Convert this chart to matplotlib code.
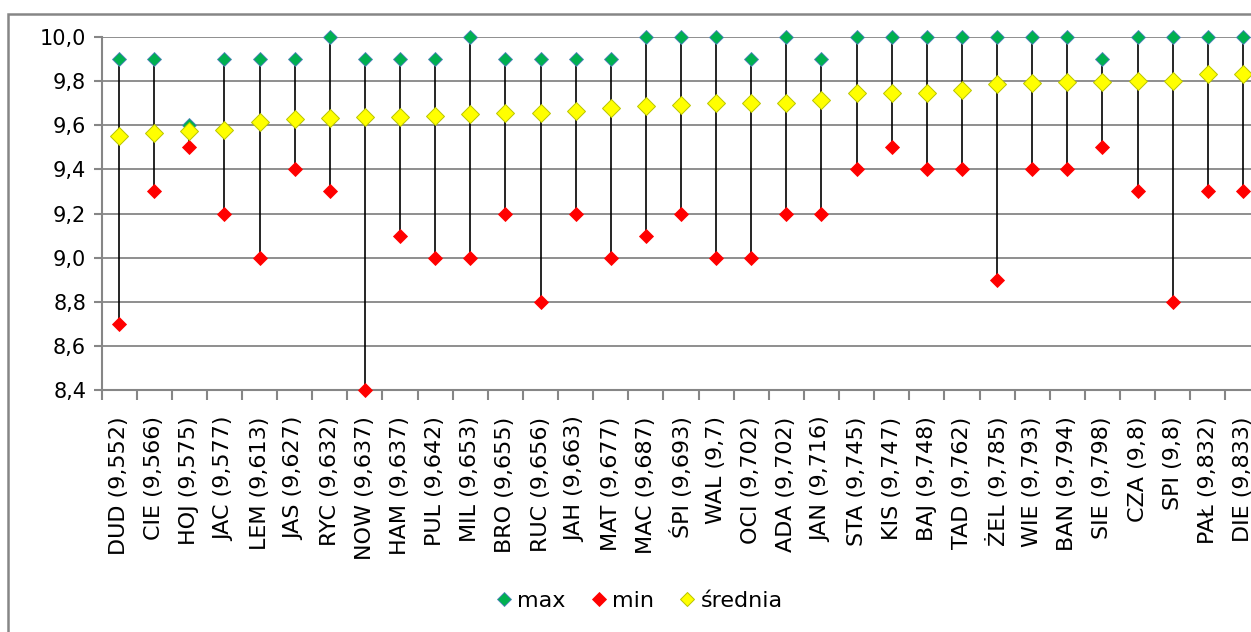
import matplotlib
matplotlib.use("Agg")
import matplotlib.pyplot as plt
from matplotlib.lines import Line2D
from matplotlib.patches import Rectangle
from matplotlib.ticker import FixedLocator, FuncFormatter

# data
names = ["DUD", "CIE", "HOJ", "JAC", "LEM", "JAS", "RYC", "NOW", "HAM", "PUL", "MIL",
         "BRO", "RUC", "JAH", "MAT", "MAC", "ŚPI", "WAL", "OCI", "ADA", "JAN", "STA",
         "KIS", "BAJ", "TAD", "ŻEL", "WIE", "BAN", "SIE", "CZA", "SPI", "PAŁ", "DIE"]
mean_vals = [9.552, 9.566, 9.575, 9.577, 9.613, 9.627, 9.632, 9.637, 9.637, 9.642, 9.653,
             9.655, 9.656, 9.663, 9.677, 9.687, 9.693, 9.7, 9.702, 9.702, 9.716, 9.745,
             9.747, 9.748, 9.762, 9.785, 9.793, 9.794, 9.798, 9.8, 9.8, 9.832, 9.833]
max_vals = [9.9, 9.9, 9.6, 9.9, 9.9, 9.9, 10.0, 9.9, 9.9, 9.9, 10.0,
            9.9, 9.9, 9.9, 9.9, 10.0, 10.0, 10.0, 9.9, 10.0, 9.9, 10.0,
            10.0, 10.0, 10.0, 10.0, 10.0, 10.0, 9.9, 10.0, 10.0, 10.0, 10.0]
min_vals = [8.7, 9.3, 9.5, 9.2, 9.0, 9.4, 9.3, 8.4, 9.1, 9.0, 9.0,
            9.2, 8.8, 9.2, 9.0, 9.1, 9.2, 9.0, 9.0, 9.2, 9.2, 9.4,
            9.5, 9.4, 9.4, 8.9, 9.4, 9.4, 9.5, 9.3, 8.8, 9.3, 9.3]
y_ticks = [8.4, 8.6, 8.8, 9.0, 9.2, 9.4, 9.6, 9.8, 10.0]

labels = [f"{n} ({m:g})".replace(".", ",") for n, m in zip(names, mean_vals)]
x = list(range(len(names)))
gray = "#868686"

fig = plt.figure(figsize=(12.51, 6.32), dpi=100)
ax = fig.add_axes([101.5 / 1251, 1 - 390 / 632, 1159 / 1251, 353 / 632])

# high-low lines
ax.vlines(x, min_vals, max_vals, color="black", lw=1.2, zorder=3, clip_on=False)
ax.plot(x, max_vals, ls="none", marker="D", ms=7, mfc="#00b050", mec="#4f81bd",
        mew=0.6, zorder=4, clip_on=False)
ax.plot(x, min_vals, ls="none", marker="D", ms=7, mfc="#ff0000", mec="#ff0000",
        mew=0.6, zorder=4, clip_on=False)
ax.plot(x, mean_vals, ls="none", marker="D", ms=9.5, mfc="#ffff00", mec="#b8c400",
        mew=0.7, zorder=5, clip_on=False)

ax.set_xlim(-0.5, len(names) - 0.5)
ax.set_ylim(8.4, 10.0)
ax.set_yticks(y_ticks)
ax.yaxis.set_major_formatter(FuncFormatter(lambda v, p: f"{v:.1f}".replace(".", ",")))
ax.grid(axis="y", color=gray, lw=1.3)
ax.set_axisbelow(True)

ax.set_xticks(x)
ax.set_xticklabels(labels, rotation=90, fontsize=16)
ax.xaxis.set_minor_locator(FixedLocator([i - 0.5 for i in range(len(names) + 1)]))
ax.tick_params(axis="x", which="major", length=0, pad=19)
ax.tick_params(axis="x", which="minor", length=7, width=1.5, color=gray)
ax.tick_params(axis="y", length=6, width=1.5, color=gray, labelsize=15, pad=5)

for side in ["top", "right"]:
    ax.spines[side].set_visible(False)
for side in ["left", "bottom"]:
    ax.spines[side].set_color(gray)
    ax.spines[side].set_linewidth(1.5)

# outer chart frame (cut off at right and bottom)
fig.patches.append(Rectangle((8 / 1251, -0.2), 1.2, 1.2 - 14 / 632, transform=fig.transFigure,
                             fill=False, ec=gray, lw=1.8, clip_on=False))

handles = [
    Line2D([], [], ls="none", marker="D", ms=7, mfc="#00b050", mec="#4f81bd", mew=0.6),
    Line2D([], [], ls="none", marker="D", ms=7, mfc="#ff0000", mec="#ff0000", mew=0.6),
    Line2D([], [], ls="none", marker="D", ms=7, mfc="#ffff00", mec="#b8c400", mew=0.7),
]
fig.legend(handles, ["max", "min", "średnia"], loc="center", ncol=3,
           bbox_to_anchor=(640 / 1251, 1 - 601 / 632), frameon=False, fontsize=16,
           handlelength=0.6, handletextpad=0.3, columnspacing=1.2, borderpad=0)

fig.savefig("out.png", dpi=100)
